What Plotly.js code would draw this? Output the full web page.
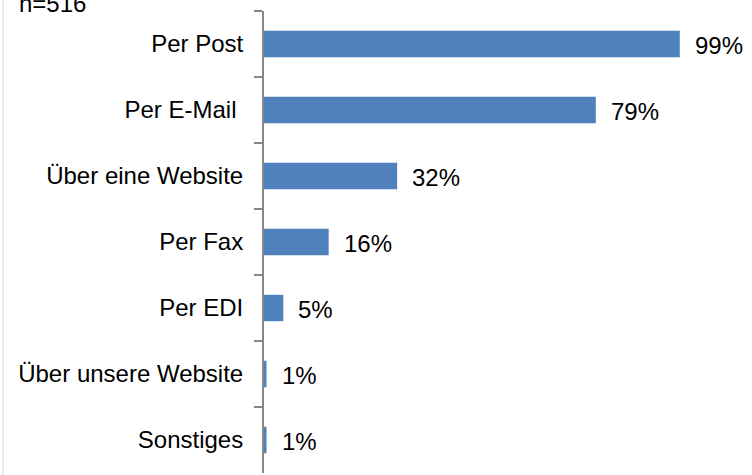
<!DOCTYPE html>
<html>
<head>
<meta charset="utf-8">
<script src="https://cdn.plot.ly/plotly-3.0.1.min.js"></script>
<style>
html,body{margin:0;padding:0;background:#fff;}
#chart{width:752px;height:475px;}
</style>
</head>
<body>
<div id="chart"></div>
<script>
const categories = ['Per Post', 'Per E-Mail ', 'Über eine Website', 'Per Fax', 'Per EDI', 'Über unsere Website', 'Sonstiges'];
const values = [99, 79, 31.7, 15.4, 4.6, 0.6, 0.6];
const valueLabels = ['99%', '79%', '32%', '16%', '5%', '1%', '1%'];
const sampleNote = 'n=516';

const fontFam = 'Liberation Sans, Arial, sans-serif';

const trace = {
  type: 'bar',
  orientation: 'h',
  x: values,
  y: categories,
  width: 0.4,
  marker: {color: '#4F81BD', line: {width: 0}},
  hoverinfo: 'none'
};

const annotations = categories.map((c, i) => ({
  x: values[i], y: c, xref: 'x', yref: 'y',
  text: valueLabels[i], showarrow: false,
  xanchor: 'left', yanchor: 'middle', xshift: 13, yshift: -1,
  font: {family: fontFam, size: 24, color: '#000'}
}));
annotations.push({
  x: -0.587, y: 1, xref: 'paper', yref: 'paper',
  text: sampleNote, showarrow: false,
  xanchor: 'left', yanchor: 'bottom', yshift: -8,
  font: {family: fontFam, size: 24, color: '#000'}
});

const layout = {
  width: 752, height: 475,
  margin: {l: 264, r: 68, t: 11, b: 2, pad: 0},
  paper_bgcolor: '#fff', plot_bgcolor: '#fff',
  showlegend: false,
  bargap: 0.6,
  xaxis: {range: [0, 100], showticklabels: false, showgrid: false, zeroline: false, showline: false, ticks: ''},
  yaxis: {
    autorange: 'reversed', type: 'category',
    showline: true, linecolor: '#868686', linewidth: 2,
    ticks: 'outside', tickson: 'boundaries', ticklen: 8, tickwidth: 2, tickcolor: '#868686',
    ticklabelstandoff: 14,
    showgrid: false, zeroline: false,
    tickfont: {family: fontFam, size: 24, color: '#000'}
  },
  shapes: [{type: 'line', xref: 'paper', yref: 'paper', x0: -0.6214, x1: -0.6214, y0: -0.1, y1: 1.1,
            line: {color: '#D9D9D9', width: 1}}],
  annotations: annotations
};

Plotly.newPlot('chart', [trace], layout, {staticPlot: true, displayModeBar: false});
</script>
</body>
</html>
